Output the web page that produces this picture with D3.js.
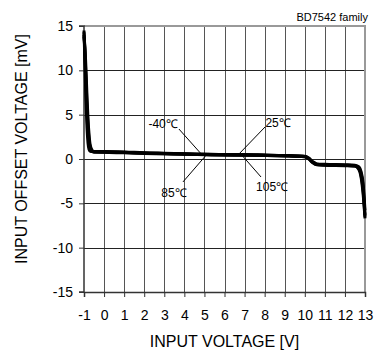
<!DOCTYPE html>
<html>
<head>
<meta charset="utf-8">
<script src="https://cdn.jsdelivr.net/npm/d3@7"></script>
<style>
  html, body { margin: 0; padding: 0; background: #fff; }
  svg { display: block; font-family: "Liberation Sans", Arial, sans-serif; }
</style>
</head>
<body>
<svg id="chart" width="378" height="351"></svg>
<script>
// ---- data ----
const vin = [-1, -0.95, -0.9, -0.85, -0.8, -0.75, -0.7, -0.6, -0.5, 0, 1, 2, 3, 4, 5, 6, 7, 8, 9, 10, 10.2, 10.4, 10.6, 11, 12, 12.5, 12.7, 12.8, 12.9, 13];
const vioM40 = [14.5, 10.5, 6.5, 3.5, 1.8, 1.1, 0.9, 0.85, 0.85, 0.85, 0.8, 0.7, 0.65, 0.6, 0.55, 0.5, 0.5, 0.45, 0.4, 0.3, 0.1, -0.3, -0.55, -0.6, -0.65, -0.7, -0.9, -1.4, -2.6, -5.8];
const vio25  = [14.3, 11.5, 8.0, 5.0, 2.8, 1.6, 1.1, 0.85, 0.8, 0.8, 0.75, 0.68, 0.62, 0.57, 0.52, 0.48, 0.46, 0.43, 0.38, 0.28, 0.05, -0.35, -0.6, -0.65, -0.7, -0.75, -1.0, -1.6, -3.0, -6.3];
const vio85  = [14.0, 12.0, 9.0, 6.0, 3.8, 2.2, 1.4, 0.9, 0.8, 0.78, 0.72, 0.65, 0.6, 0.55, 0.5, 0.46, 0.44, 0.41, 0.36, 0.26, 0.02, -0.4, -0.62, -0.67, -0.72, -0.78, -1.1, -1.8, -3.4, -6.5];
const vio105 = [13.8, 12.5, 10.0, 7.0, 4.5, 2.8, 1.7, 1.0, 0.82, 0.75, 0.7, 0.63, 0.58, 0.53, 0.48, 0.44, 0.42, 0.39, 0.34, 0.24, 0.0, -0.42, -0.65, -0.7, -0.75, -0.8, -1.2, -2.0, -3.8, -6.7];
const seriesNames = ["-40℃", "25℃", "85℃", "105℃"];
const xTicks = [-1, 0, 1, 2, 3, 4, 5, 6, 7, 8, 9, 10, 11, 12, 13];
const yTicks = [-15, -10, -5, 0, 5, 10, 15];
// annotation labels (data coords): text position, leader line start and end
const annText = ["-40℃", "85℃", "25℃", "105℃"];
const annTextX = [2.94, 3.48, 8.67, 8.37];
const annTextY = [3.95, -3.83, 4.06, -3.16];
const annX1 = [3.73, 3.93, 8.02, 7.82];
const annY1 = [3.38, -2.59, 3.61, -2.03];
const annX2 = [4.93, 5.18, 6.77, 6.77];
const annY2 = [0.34, 0.68, 0.68, 0.68];
const titleText = "BD7542 family";
const xTitle = "INPUT VOLTAGE [V]";
const yTitle = "INPUT OFFSET VOLTAGE [mV]";

// ---- layout ----
const svg = d3.select("#chart");
const m = { left: 84, top: 26, right: 13, bottom: 59 };
const W = 378 - m.left - m.right, H = 351 - m.top - m.bottom;
const x = d3.scaleLinear().domain([-1, 13]).range([0, W]);
const y = d3.scaleLinear().domain([-15, 15]).range([H, 0]);
const g = svg.append("g").attr("transform", `translate(${m.left},${m.top})`);

// grid
g.append("g").selectAll("line").data(xTicks.slice(1, -1)).join("line")
  .attr("x1", d => Math.round(x(d)) + 0.5).attr("x2", d => Math.round(x(d)) + 0.5)
  .attr("y1", 0).attr("y2", H).attr("stroke", "#555").attr("stroke-width", 1);
g.append("g").selectAll("line").data(yTicks.slice(1, -1)).join("line")
  .attr("y1", d => Math.round(y(d)) + 0.5).attr("y2", d => Math.round(y(d)) + 0.5)
  .attr("x1", 0).attr("x2", W).attr("stroke", "#222").attr("stroke-width", 1);

// top & right frame (gray)
g.append("line").attr("x1", 0).attr("x2", W + 1).attr("y1", 0).attr("y2", 0)
  .attr("stroke", "#999").attr("stroke-width", 2);
g.append("line").attr("x1", W).attr("x2", W).attr("y1", 0).attr("y2", H)
  .attr("stroke", "#999").attr("stroke-width", 2);

// axes
const fmt = d => String(d);
const xAxis = d3.axisBottom(x).tickValues(xTicks).tickSize(5).tickPadding(13).tickFormat(fmt);
const yAxis = d3.axisLeft(y).tickValues(yTicks).tickSize(5).tickPadding(6).tickFormat(fmt);
const gx = g.append("g").attr("transform", `translate(0,${H})`).call(xAxis);
const gy = g.append("g").call(yAxis);
[gx, gy].forEach(a => {
  a.select(".domain").attr("stroke", "#333").attr("stroke-width", 1.5);
  a.selectAll(".tick line").attr("stroke", "#333");
  a.selectAll("text").attr("fill", "#000").style("font-size", "14px")
    .style("font-family", '"Liberation Sans", Arial, sans-serif');
});
gy.select(".domain").attr("d", `M-5,${H}H0V0H-5`);

// curves
const rows = vin.map((v, i) => ({ v, s: [vioM40[i], vio25[i], vio85[i], vio105[i]] }));
const line = d3.line().curve(d3.curveMonotoneX);
seriesNames.forEach((name, k) => {
  g.append("path")
    .attr("d", line(rows.map(r => [x(r.v), y(r.s[k])])))
    .attr("fill", "none").attr("stroke", "#000").attr("stroke-width", 3)
    .attr("stroke-linejoin", "round");
});

// annotations
annText.forEach((t, i) => {
  g.append("line")
    .attr("x1", x(annX1[i])).attr("y1", y(annY1[i]))
    .attr("x2", x(annX2[i])).attr("y2", y(annY2[i]))
    .attr("stroke", "#000").attr("stroke-width", 1);
  g.append("text").attr("x", x(annTextX[i])).attr("y", y(annTextY[i]))
    .attr("text-anchor", "middle").attr("dominant-baseline", "central")
    .style("font-size", "12px").text(t);
});

// titles
svg.append("text").attr("x", 368).attr("y", 21).attr("text-anchor", "end")
  .style("font-size", "11px").text(titleText);
svg.append("text").attr("x", m.left + W / 2).attr("y", 347).attr("text-anchor", "middle")
  .style("font-size", "16px").text(xTitle);
svg.append("text").attr("transform", `translate(27,149) rotate(-90)`)
  .attr("text-anchor", "middle").style("font-size", "16px").text(yTitle);
</script>
</body>
</html>
